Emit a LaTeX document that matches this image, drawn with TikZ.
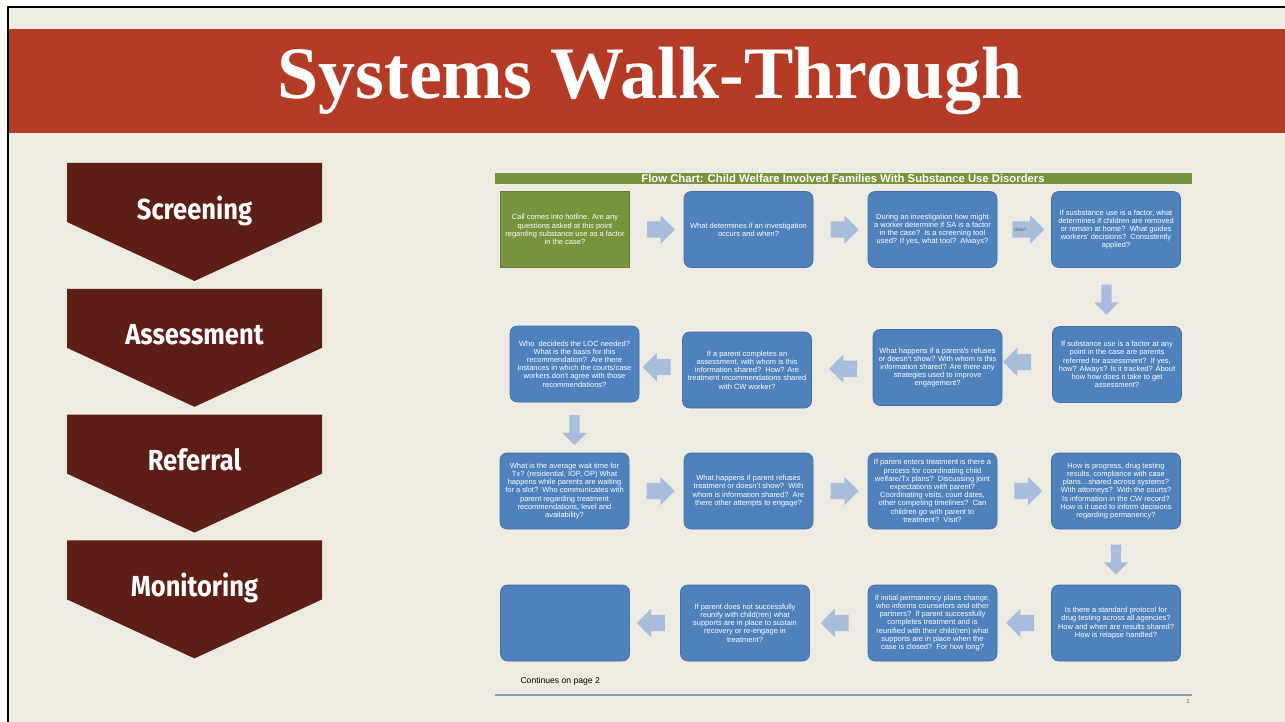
\documentclass[tikz,border=0pt]{standalone}
\usepackage{fontspec}
\setmainfont{Liberation Sans}
\newfontfamily\titlefont{Liberation Serif}
\newfontfamily\stagefont{Fira Sans}[FakeStretch=0.88]
\usetikzlibrary{shapes.arrows}
\usetikzlibrary{calc}

\definecolor{slidebg}{RGB}{238,235,227}
\definecolor{bandred}{RGB}{180,60,38}
\definecolor{stagebrown}{RGB}{92,30,21}
\definecolor{chartgreen}{RGB}{119,147,60}
\definecolor{boxblue}{RGB}{79,129,189}
\definecolor{arrowblue}{RGB}{168,189,219}
\definecolor{ruleblue}{RGB}{136,156,176}

\tikzset{
  qbox/.style={rectangle, rounded corners=7pt, fill=boxblue, draw=boxblue!85!black,
    line width=0.6pt, minimum width=129pt, minimum height=76pt, inner sep=1pt,
    align=center, text=white, font=\fontsize{7.5}{8.2}\selectfont},
  harrow/.style={single arrow, draw=none, inner xsep=5pt, inner ysep=8pt,
    single arrow head extend=6pt, minimum height=28pt},
  varrow/.style={single arrow, draw=none, inner xsep=5pt, inner ysep=9pt,
    single arrow head extend=7pt, minimum height=30pt, shape border rotate=270},
  stagelbl/.style={text=white, anchor=base, font=\stagefont\bfseries\fontsize{29}{30}\selectfont}
}

\begin{document}
\begin{tikzpicture}[x=1pt,y=-1pt]
\useasboundingbox (0,0) rectangle (1285,722);
\fill[white] (0,0) rectangle (1285,722);
\fill[slidebg] (8,7) rectangle (1285,722);
\draw[line width=2pt] (8,722) -- (8,7) -- (1285,7);
\fill[bandred] (9,29) rectangle (1285,133);
\node[text=white, anchor=base, font=\titlefont\bfseries\fontsize{74}{80}\selectfont] (title) at (650,99) {Systems Walk-Through};

\foreach \lbl [count=\i from 0] in {Screening,Assessment,Referral,Monitoring}{
  \pgfmathsetmacro\ytop{163+125.8*\i}
  \fill[stagebrown] (67,\ytop) -- ++(255,0) -- ++(0,59) -- ++(-127.5,59) -- ++(-127.5,-59) -- cycle;
  \node[stagelbl] (st\i) at (194.5,\ytop+56) {\lbl};
}

\fill[chartgreen] (495,173.5) rectangle (1192,184);
\node[text=white, font=\bfseries\fontsize{11.3}{12}\selectfont] (charttitle) at (843,178.9)
  {Flow Chart: Child Welfare Involved Families With Substance Use Disorders};

\begin{scope}[every node/.style={qbox}]
  \node[fill=chartgreen, draw=chartgreen!85!black, rounded corners=0pt] (b11) at (565,229.5)
    {Call comes into hotline. Are any\\questions asked at this point\\regarding substance use as a factor\\in the case?};
  \node (b12) at (748.5,229.5) {What determines if an investigation\\occurs and when?};
  \node (b13) at (932.5,229.5) {During an investigation how might\\a worker determine if SA is a factor\\in the case?\ \ Is a screening tool\\used? If yes, what tool?\ \ Always?};
  \node (b14) at (1116,229.5) {If susbstance use is a factor, what\\determines if children are removed\\or remain at home?\ \ What guides\\workers' decisions?\ \ Consistently\\applied?};

  \node (b24) at (1117,364.5) {If substance use is a factor at any\\point in the case are parents\\referred for assessment?\ \ If yes,\\how? Always? Is it tracked? About\\how how does it take to get\\assessment?};
  \node (b23) at (937.5,367.5) {What happens if a parent/s refuses\\or doesn't show? With whom is this\\information shared? Are there any\\strategies used to improve\\engagement?};
  \node (b22) at (747,370) {If a parent completes an\\assessment, with whom is this\\information shared?\ \ How? Are\\treatment recommendations shared\\with CW worker?};
  \node (b21) at (574.5,364) {Who\ \ decideds the LOC needed?\\What is the basis for this\\recommendation?\ \ Are there\\instances in which the courts/case\\workers don't agree with those\\recommendations?};

  \node (b31) at (564.5,491) {What is the average wait time for\\Tx? (residential, IOP, OP) What\\happens while parents are waiting\\for a slot?\ \ Who communicates with\\parent regarding treatment\\recommendations, level and\\availability?};
  \node (b32) at (748.5,491) {What happens if parent refuses\\treatment or doesn't show?\ \ With\\whom is information shared?\ \ Are\\there other attempts to engage?};
  \node (b33) at (932.5,491) {If parent enters treatment is there a\\process for coordinating child\\welfare/Tx plans?\ \ Discussing joint\\expectations with parent?\\Coordinating visits, court dates,\\other competing timelines?\ \ Can\\children go with parent to\\treatment?\ \ Visit?};
  \node (b34) at (1116,491) {How is progress, drug testing\\results, compliance with case\\plans…shared across systems?\\With attorneys?\ \ With the courts?\\Is information in the CW record?\\How is it used to inform decisions\\regarding permanency?};

  \node (b44) at (1116,623) {Is there a standard protocol for\\drug testing across all agencies?\\How and when are results shared?\\How is relapse handled?};
  \node (b43) at (932.5,623) {If initial permanency plans change,\\who informs counselors and other\\partners?\ \ If parent successfully\\completes treatment and is\\reunified with their child(ren) what\\supports are in place when the\\case is closed?\ \ For how long?};
  \node (b42) at (745,623) {If parent does not successfully\\reunify with child(ren) what\\supports are in place to sustain\\recovery or re-engage in\\treatment?};
  \node (b41) at (565,623) {};
\end{scope}

\begin{scope}[every node/.style={fill=arrowblue}]
  \node[harrow] (a1) at ($(b11.east)!0.5!(b12.west)$) {};
  \node[harrow] (a2) at ($(b12.east)!0.5!(b13.west)$) {};
  \node[harrow, minimum height=32pt] (a3) at ($(b13.east)!0.5!(b14.west)$) {};
  \node[varrow, xshift=-10pt] (a4) at ($(b14.south)!0.5!(b24.north)$) {};
  \node[harrow, shape border rotate=180, xshift=-6pt, yshift=4pt] (a5) at ($(b24.west)!0.5!(b23.east)$) {};
  \node[harrow, shape border rotate=180, xshift=5pt] (a6) at ($(b23.west)!0.5!(b22.east)$) {};
  \node[harrow, shape border rotate=180] (a7) at ($(b22.west)!0.5!(b21.east)$) {};
  \node[varrow, xshift=5pt] (a8) at ($(b21.south)!0.5!(b31.north)$) {};
  \node[harrow] (a9) at ($(b31.east)!0.5!(b32.west)$) {};
  \node[harrow] (a10) at ($(b32.east)!0.5!(b33.west)$) {};
  \node[harrow] (a11) at ($(b33.east)!0.5!(b34.west)$) {};
  \node[varrow] (a12) at ($(b34.south)!0.5!(b44.north)$) {};
  \node[harrow, shape border rotate=180] (a13) at ($(b44.west)!0.5!(b43.east)$) {};
  \node[harrow, shape border rotate=180] (a14) at ($(b43.west)!0.5!(b42.east)$) {};
  \node[harrow, shape border rotate=180] (a15) at ($(b42.west)!0.5!(b41.east)$) {};
\end{scope}
\node[text=black!60, font=\fontsize{5}{5}\selectfont, xshift=-4pt] (datalbl) at (a3) {data?};

\node[anchor=west, font=\fontsize{8.6}{9}\selectfont] (cont) at (517,681) {Continues on page 2};
\draw[ruleblue, line width=2pt] (495,695) -- (1192,695);
\node[text=black!60, font=\fontsize{6}{6}\selectfont] (pagenum) at (1188,701.5) {1};
\end{tikzpicture}
\end{document}
